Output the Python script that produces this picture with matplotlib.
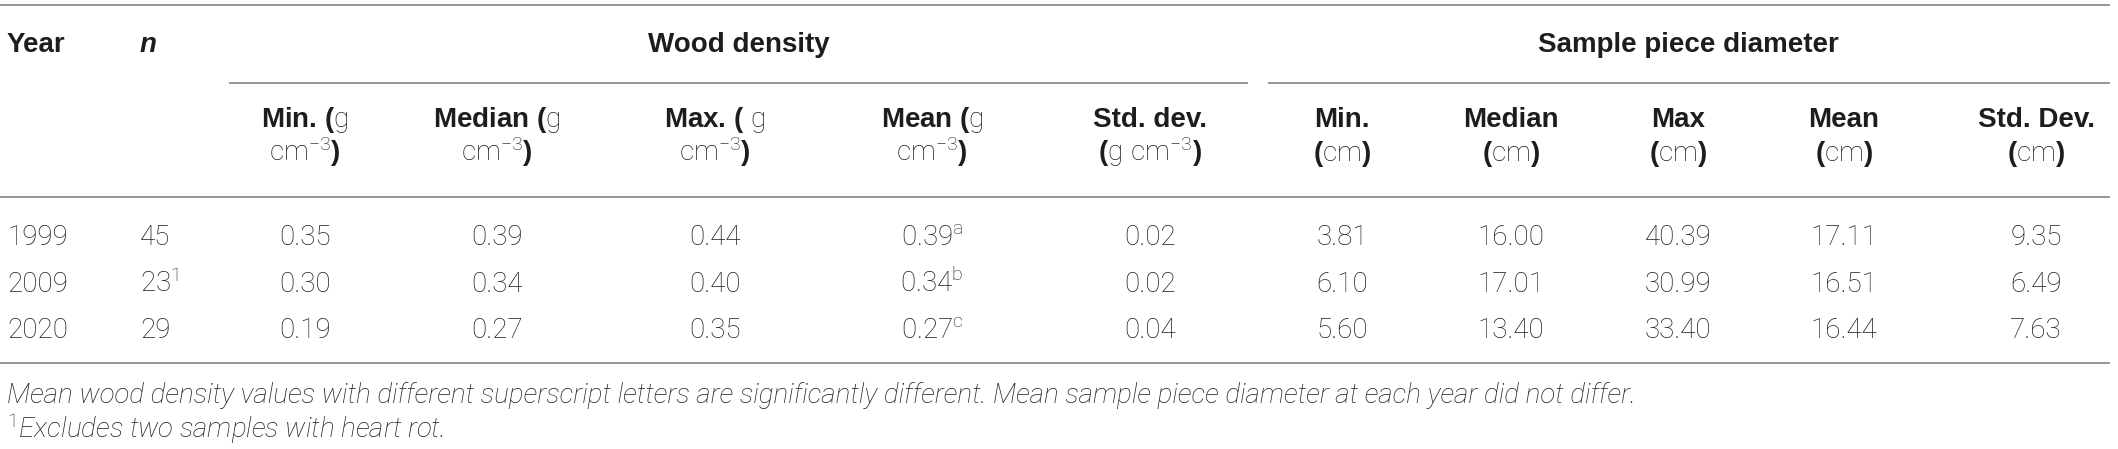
import matplotlib
matplotlib.use("Agg")
import matplotlib.pyplot as plt

plt.rcParams['font.family'] = ['Liberation Sans', 'DejaVu Sans']
plt.rcParams['mathtext.fontset'] = 'custom'
plt.rcParams['mathtext.rm'] = 'Roboto:light'
plt.rcParams['mathtext.it'] = 'Roboto:italic:light'
plt.rcParams['mathtext.bf'] = 'Liberation Sans:bold'

# table data
years = ['1999', '2009', '2020']
n_samples = [45, 23, 29]
n_notes = ['', '1', '']
dens_min = [0.35, 0.30, 0.19]
dens_median = [0.39, 0.34, 0.27]
dens_max = [0.44, 0.40, 0.35]
dens_mean = [0.39, 0.34, 0.27]
mean_letters = ['a', 'b', 'c']
dens_sd = [0.02, 0.02, 0.04]
diam_min = [3.81, 6.10, 5.60]
diam_median = [16.00, 17.01, 13.40]
diam_max = [40.39, 30.99, 33.40]
diam_mean = [17.11, 16.51, 16.44]
diam_sd = [9.35, 6.49, 7.63]

group_labels = ['Wood density', 'Sample piece diameter']
# bold plain text, light parts in mathtext
sub_headers = [
    (r'Min. ($\mathrm{g}$', r'$\mathrm{cm}^{-3}$)'),
    (r'Median ($\mathrm{g}$', r'$\mathrm{cm}^{-3}$)'),
    (r'Max. ( $\mathrm{g}$', r'$\mathrm{cm}^{-3}$)'),
    (r'Mean ($\mathrm{g}$', r'$\mathrm{cm}^{-3}$)'),
    ('Std. dev.', r'($\mathrm{g\ cm}^{-3}$)'),
    ('Min.', r'($\mathrm{cm}$)'),
    ('Median', r'($\mathrm{cm}$)'),
    ('Max', r'($\mathrm{cm}$)'),
    ('Mean', r'($\mathrm{cm}$)'),
    ('Std. Dev.', r'($\mathrm{cm}$)'),
]
note_text = ('Mean wood density values with different superscript letters are '
             'significantly different. Mean sample piece diameter at each year did not differ.')
note2_text = 'Excludes two samples with heart rot.'

W, H = 2118, 449
txt = '#1f1c1d'
line_c = '#8e8e8e'
fs = 20
light = dict(family=['Roboto', 'Liberation Sans'], fontweight='light')

fig = plt.figure(figsize=(W / 100, H / 100), dpi=100)
ax = fig.add_axes([0, 0, 1, 1])
ax.set_xlim(0, W)
ax.set_ylim(H, 0)
ax.axis('off')

col_x = [305, 497, 715, 932, 1150, 1342, 1511, 1678, 1844, 2036]
row_y = [245, 292, 338]

# rules
for y in (5, 197, 363):
    ax.plot([0, 2110], [y, y], color=line_c, lw=1.3, solid_capstyle='butt')
ax.plot([229, 1248], [83, 83], color=line_c, lw=1.3, solid_capstyle='butt')
ax.plot([1268, 2110], [83, 83], color=line_c, lw=1.3, solid_capstyle='butt')

# header
ax.text(7, 52, 'Year', fontsize=fs, fontweight='bold', color=txt, va='baseline')
ax.text(140, 52, 'n', fontsize=fs, fontweight='bold', style='italic', color=txt, va='baseline')
ax.text(739, 52, group_labels[0], fontsize=fs, fontweight='bold', color=txt, ha='center', va='baseline')
ax.text(1688, 52, group_labels[1], fontsize=fs, fontweight='bold', color=txt, ha='center', va='baseline')
for x, (l1, l2) in zip(col_x, sub_headers):
    ax.text(x, 127, l1, fontsize=fs, fontweight='bold', color=txt, ha='center', va='baseline')
    ax.text(x, 161, l2, fontsize=fs, fontweight='bold', color=txt, ha='center', va='baseline')

# body
for i, y in enumerate(row_y):
    ax.text(7, y, years[i], fontsize=fs, color=txt, va='baseline', **light)
    n_lab = str(n_samples[i])
    if n_notes[i]:
        n_lab += r'$^{\mathrm{%s}}$' % n_notes[i]
    ax.text(140, y, n_lab, fontsize=fs, color=txt, va='baseline', **light)
    vals = [f'{dens_min[i]:.2f}', f'{dens_median[i]:.2f}', f'{dens_max[i]:.2f}',
            f'{dens_mean[i]:.2f}' + r'$^{\mathrm{%s}}$' % mean_letters[i],
            f'{dens_sd[i]:.2f}', f'{diam_min[i]:.2f}', f'{diam_median[i]:.2f}',
            f'{diam_max[i]:.2f}', f'{diam_mean[i]:.2f}', f'{diam_sd[i]:.2f}']
    for x, v in zip(col_x, vals):
        ax.text(x, y, v, fontsize=fs, color=txt, ha='center', va='baseline', **light)

# footnotes
ax.text(7, 403, note_text, fontsize=fs, style='italic', color=txt, va='baseline', **light)
ax.text(7, 438, r'$^{\mathit{1}}$' + note2_text, fontsize=fs, style='italic', color=txt,
        va='baseline', **light)

fig.savefig('out.png', dpi=100)
